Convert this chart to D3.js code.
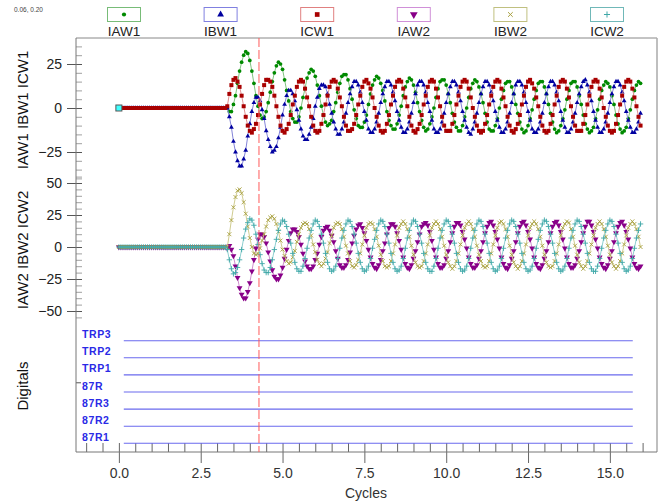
<!DOCTYPE html>
<html>
<head>
<meta charset="utf-8">
<script src="https://cdn.jsdelivr.net/npm/d3@7"></script>
<style>
  body { margin: 0; background: #fff; }
  svg { display: block; font-family: "Liberation Sans", Arial, sans-serif; }
</style>
</head>
<body>
<svg id="chart" width="659" height="502"></svg>
<script>
// Sampled relay record: 16 samples per power cycle, sample i sits at i/16 cycles.
const SAMPLES_PER_CYCLE = 16;

// Winding 1 currents (A, secondary)
const IAW1 = [
  0,0,0,0,0,0,0,0,0,0,0,0,0,0,0,0,
  0,0,0,0,0,0,0,0,0,0,0,0,0,0,0,0,
  0,0,0,0,0,0,0,0,0,0,0,0,0,0,0,0,
  0,0,0,0,0,0,-2,-2,2,7,14,21,26,30,32,31,
  27,21,14,7,1,-4,-6,-5,-2,3,9,15,20,24,26,25,
  22,16,10,4,-2,-6,-8,-8,-5,0,6,11,17,20,22,21,
  18,13,7,1,-4,-8,-10,-9,-7,-2,3,9,14,18,19,19,
  16,11,5,-1,-6,-10,-11,-11,-8,-4,2,8,13,16,18,17,
  14,10,4,-2,-7,-10,-12,-12,-9,-4,1,7,12,15,17,16,
  13,9,3,-2,-7,-11,-13,-12,-9,-5,0,6,11,15,16,16,
  13,8,3,-3,-8,-11,-13,-13,-10,-5,0,6,11,14,16,15,
  12,8,3,-3,-8,-12,-13,-13,-10,-6,0,5,10,14,15,15,
  12,8,2,-3,-8,-12,-14,-13,-10,-6,-1,5,10,14,15,15,
  12,8,2,-3,-8,-12,-14,-13,-10,-6,-1,5,10,14,15,15,
  12,7,2,-4,-9,-12,-14,-13,-11,-6,-1,5,10,13,15,14,
  12,7,2,-4,-9,-12,-14,-13,-11,-6,-1,5,10,13,15,14
];
const IBW1 = [
  0,0,0,0,0,0,0,0,0,0,0,0,0,0,0,0,
  0,0,0,0,0,0,0,0,0,0,0,0,0,0,0,0,
  0,0,0,0,0,0,0,0,0,0,0,0,0,0,0,0,
  0,0,0,0,0,0,-5,-11,-19,-25,-30,-33,-33,-29,-24,-16,
  -9,-2,3,6,6,4,-1,-6,-13,-18,-22,-25,-24,-22,-17,-11,
  -4,2,7,10,10,8,4,-1,-7,-12,-16,-18,-18,-15,-11,-6,
  1,6,11,13,13,12,8,2,-3,-8,-12,-15,-15,-12,-8,-3,
  3,8,12,15,15,13,9,3,-2,-7,-12,-14,-14,-12,-8,-3,
  3,8,12,15,15,13,9,4,-2,-7,-11,-14,-14,-12,-8,-3,
  3,8,13,15,15,13,9,3,-2,-7,-12,-14,-14,-12,-8,-3,
  3,8,12,15,15,13,9,4,-2,-7,-11,-14,-15,-12,-8,-3,
  3,8,12,15,15,13,9,4,-2,-7,-11,-14,-14,-12,-8,-3,
  3,8,13,15,15,13,9,3,-2,-7,-12,-14,-14,-12,-8,-3,
  3,8,12,15,15,13,9,4,-2,-7,-11,-14,-14,-12,-8,-3,
  3,8,12,15,16,13,9,4,-2,-7,-11,-14,-14,-12,-8,-3,
  3,8,12,15,15,13,9,4,-2,-7,-11,-14,-14,-12,-8,-3
];
const ICW1 = [
  0,0,0,0,0,0,0,0,0,0,0,0,0,0,0,0,
  0,0,0,0,0,0,0,0,0,0,0,0,0,0,0,0,
  0,0,0,0,0,0,0,0,0,0,0,0,0,0,0,0,
  0,0,0,0,0,1,8,13,16,17,15,12,7,1,-5,-10,
  -13,-14,-12,-9,-4,2,8,13,16,16,15,12,7,1,-5,-10,
  -13,-14,-12,-9,-4,2,7,12,15,16,15,11,6,1,-5,-10,
  -13,-14,-13,-9,-4,2,7,12,15,16,15,11,6,1,-5,-10,
  -13,-13,-12,-9,-4,2,7,12,15,16,14,11,6,0,-5,-10,
  -13,-14,-13,-9,-4,2,7,12,15,16,15,11,6,1,-5,-10,
  -13,-14,-12,-9,-4,2,7,12,15,16,15,11,6,1,-5,-10,
  -13,-13,-13,-9,-4,2,7,12,15,16,15,11,6,0,-5,-10,
  -13,-14,-13,-9,-4,2,7,12,15,16,15,11,6,1,-5,-10,
  -13,-14,-12,-9,-4,2,7,12,15,16,14,11,6,1,-5,-10,
  -13,-14,-13,-9,-4,2,7,12,15,16,15,11,6,1,-5,-10,
  -13,-13,-13,-9,-4,2,7,12,15,16,15,11,6,0,-5,-10,
  -13,-14,-13,-9,-4,2,7,12,15,16,15,11,6,1,-5,-10
];

// Winding 2 currents (A, secondary)
const IAW2 = [
  0,0,0,0,0,0,0,0,0,0,0,0,0,0,0,0,
  0,0,0,0,0,0,0,0,0,0,0,0,0,0,0,0,
  0,0,0,0,0,0,0,0,0,0,0,0,0,0,0,0,
  0,0,0,0,0,-1,1,-2,-7,-15,-24,-32,-37,-40,-40,-35,
  -28,-19,-10,-1,6,10,10,8,3,-4,-11,-18,-23,-25,-25,-22,
  -16,-9,-2,5,11,14,14,12,8,2,-5,-11,-15,-17,-17,-15,
  -10,-5,2,8,13,15,16,13,9,4,-3,-9,-14,-16,-16,-14,
  -10,-4,3,9,14,17,18,15,11,5,-2,-8,-13,-16,-17,-14,
  -10,-3,3,10,15,18,18,16,11,5,-2,-8,-13,-16,-17,-14,
  -9,-3,4,10,16,18,19,17,12,5,-2,-8,-13,-16,-16,-14,
  -9,-3,4,11,16,19,19,17,12,6,-1,-8,-13,-16,-16,-14,
  -9,-3,4,11,16,19,20,17,12,6,-1,-8,-13,-16,-17,-14,
  -9,-3,4,11,16,19,20,17,12,6,-1,-8,-13,-16,-17,-14,
  -9,-3,4,11,16,19,20,17,12,6,-1,-8,-13,-16,-16,-14,
  -9,-3,4,11,16,20,20,17,12,6,-1,-8,-13,-16,-17,-14,
  -9,-3,4,11,16,19,20,17,12,6,-1,-8,-13,-16,-17,-15
];
const IBW2 = [
  0,0,0,0,0,0,0,0,0,0,0,0,0,0,0,0,
  0,0,0,0,0,0,0,0,0,0,0,0,0,0,0,0,
  0,0,0,0,0,0,0,0,0,0,0,0,0,0,0,0,
  0,0,0,0,0,0,10,21,31,39,44,45,42,35,26,16,
  7,0,-5,-6,-5,-1,5,10,16,21,23,24,22,18,12,5,
  -2,-7,-11,-13,-12,-8,-3,4,10,15,18,19,18,14,9,2,
  -4,-10,-13,-15,-13,-9,-4,3,9,15,18,19,18,14,8,1,
  -5,-11,-15,-16,-14,-10,-5,2,9,15,18,19,18,14,8,1,
  -6,-11,-15,-16,-15,-11,-5,2,9,15,18,20,18,14,8,1,
  -6,-12,-15,-16,-15,-11,-5,2,9,15,18,20,18,14,8,1,
  -6,-12,-15,-17,-15,-11,-5,2,9,15,18,20,18,14,8,1,
  -6,-11,-15,-16,-15,-11,-5,2,9,15,19,20,18,14,8,1,
  -6,-12,-15,-17,-15,-11,-5,2,9,15,18,20,18,14,8,1,
  -6,-12,-15,-16,-15,-11,-5,2,9,15,18,20,19,14,8,1,
  -6,-12,-15,-17,-15,-11,-5,2,9,15,18,20,18,14,8,1,
  -6,-12,-15,-17,-15,-11,-5,2,9,15,18,20,18,14,8,0
];
const ICW2 = [
  0,0,0,0,0,0,0,0,0,0,0,0,0,0,0,0,
  0,0,0,0,0,0,0,0,0,0,0,0,0,0,0,0,
  0,0,0,0,0,0,0,0,0,0,0,0,0,0,0,0,
  0,0,0,0,0,-2,-10,-17,-21,-20,-16,-10,-2,7,14,19,
  22,21,17,10,2,-6,-13,-18,-20,-20,-16,-10,-2,6,13,18,
  21,20,16,10,3,-5,-12,-17,-19,-19,-15,-9,-1,7,13,18,
  21,20,16,10,3,-5,-12,-17,-19,-18,-15,-9,-1,7,13,18,
  21,20,16,10,3,-5,-12,-17,-19,-18,-15,-9,-1,6,13,18,
  21,20,16,10,3,-5,-12,-17,-19,-18,-15,-9,-1,7,13,18,
  21,20,16,10,3,-5,-12,-17,-19,-19,-15,-9,-1,7,13,18,
  21,20,16,10,3,-5,-12,-17,-19,-18,-15,-9,-1,7,13,18,
  21,20,16,10,3,-5,-12,-17,-19,-18,-15,-9,-1,7,13,18,
  21,20,16,10,3,-5,-12,-17,-19,-18,-15,-9,-1,6,13,18,
  21,20,16,10,3,-5,-12,-17,-19,-18,-15,-9,-1,7,13,18,
  21,20,16,10,3,-5,-12,-17,-19,-19,-15,-9,-1,7,13,18,
  21,20,16,10,3,-5,-12,-17,-19,-18,-15,-9,-1,7,13,18
];

// Digital channels (all deasserted) and their recorded span, cycles
const digitalChannels = ["TRP3", "TRP2", "TRP1", "87R", "87R3", "87R2", "87R1"];
const digitalSpan = [0.15, 15.7];

// Axis ticks
const xTicks = [0, 2.5, 5, 7.5, 10, 12.5, 15];
const topTicks = [-25, 0, 25];
const midTicks = [-50, -25, 0, 25, 50];

// Trigger cursor and reference marker
const cursorCycle = 4.28;
const originMark = [0, 0];
const cursorReadout = "0.06, 0.20";

// ---------------------------------------------------------------
const svg = d3.select("#chart");
const frame = { left: 76, right: 657, top: 38, bottom: 452 };

const x = d3.scaleLinear().domain([-1.31, 16.44]).range([frame.left, frame.right]);
const yTop = d3.scaleLinear().domain([-40, 40]).range([178.4, 37.6]);
const yMid = d3.scaleLinear().domain([-60, 60]).range([323.8, 170.2]);
const yDig = d3.scalePoint().domain(digitalChannels).range([340.7, 443.3]);
const yDigAxis = d3.scaleLinear().domain([0, 7]).range([frame.bottom, 330]);

const series = [
  { name: "IAW1", values: IAW1, y: yTop, color: "#008a00", line: "#80c480", box: "#78bc78",
    type: d3.symbolCircle, size: 11, legendSize: 14, filled: true },
  { name: "IBW1", values: IBW1, y: yTop, color: "#0000a0", line: "#8484d8", box: "#8080e0",
    type: d3.symbolTriangle, size: 10, legendSize: 20, filled: true },
  { name: "ICW1", values: ICW1, y: yTop, color: "#a80000", line: "#e09090", box: "#e08080",
    type: d3.symbolSquare, size: 16, legendSize: 22, filled: true },
  { name: "IAW2", values: IAW2, y: yMid, color: "#880088", line: "#d090d0", box: "#d090d8",
    type: d3.symbolTriangle, size: 15, legendSize: 26, filled: true, flip: true },
  { name: "IBW2", values: IBW2, y: yMid, color: "#a8a040", line: "#d0cc90", box: "#c0c080",
    type: d3.symbolTimes, size: 12, legendSize: 16, filled: false },
  { name: "ICW2", values: ICW2, y: yMid, color: "#40a8a8", line: "#90d0d0", box: "#70b8b8",
    type: d3.symbolPlus, size: 11, legendSize: 14, filled: false }
];

// Frame
svg.append("line").attr("x1", frame.left).attr("x2", frame.right)
  .attr("y1", frame.top).attr("y2", frame.top).attr("stroke", "#888");
svg.append("line").attr("x1", frame.right).attr("x2", frame.right)
  .attr("y1", frame.top).attr("y2", frame.bottom).attr("stroke", "#aaa").attr("stroke-width", 1.5);

// Cursor readout
svg.append("text").attr("x", 14).attr("y", 12).attr("font-size", 6.5).attr("fill", "#444")
  .text(cursorReadout);

// Legend
const legend = svg.append("g");
series.forEach((s, i) => {
  const cx = 124 + 96.6 * i;
  const g = legend.append("g").attr("transform", `translate(${cx},0)`);
  g.append("rect").attr("x", -16.5).attr("y", 7.5).attr("width", 33).attr("height", 14)
    .attr("fill", "#fff").attr("stroke", s.box);
  g.append("path").attr("d", d3.symbol().type(s.type).size(s.legendSize)())
    .attr("transform", `translate(0,14.5)${s.flip ? " rotate(180)" : ""}`)
    .attr("fill", s.filled ? s.color : "none")
    .attr("stroke", s.filled ? "none" : s.color);
  g.append("text").attr("y", 36).attr("text-anchor", "middle").attr("font-size", 13.5)
    .attr("fill", "#222").text(s.name);
});

// Left axes
function valueAxis(scale, majors, minorRange) {
  const g = svg.append("g").attr("transform", `translate(${frame.left},0)`);
  const minor = d3.range(minorRange[0], minorRange[1] + 0.1, 5);
  g.append("g").call(d3.axisRight(scale).tickValues(minor).tickSize(6).tickFormat(""))
    .call(a => a.select(".domain").remove())
    .call(a => a.selectAll("line").attr("stroke", "#a0a0a0"));
  g.append("g").call(d3.axisLeft(scale).tickValues(majors).tickSize(9).tickPadding(5).tickFormat(d3.format("d")))
    .call(a => a.select(".domain").remove())
    .call(a => a.selectAll("line").attr("stroke", "#555"))
    .call(a => a.selectAll("text").attr("font-size", 14).attr("fill", "#222")
      .attr("font-family", "'Liberation Sans', Arial, sans-serif"));
  g.append("g").call(d3.axisRight(scale).tickValues(majors).tickSize(6).tickFormat(""))
    .call(a => a.select(".domain").remove())
    .call(a => a.selectAll("line").attr("stroke", "#555"));
}
valueAxis(yTop, topTicks, [-40, 35]);
valueAxis(yMid, midTicks, [-55, 55]);

svg.append("g").attr("transform", `translate(${frame.left},0)`)
  .call(d3.axisRight(yDigAxis).tickValues([4]).tickSize(5).tickFormat(""))
  .call(a => a.select(".domain").remove())
  .call(a => a.selectAll("line").attr("stroke", "#555"));

svg.append("line").attr("x1", frame.left).attr("x2", frame.left)
  .attr("y1", frame.top).attr("y2", frame.bottom).attr("stroke", "#777");

// Axis titles
function yTitle(text, cy) {
  svg.append("text").attr("transform", `translate(28,${cy}) rotate(-90)`)
    .attr("text-anchor", "middle").attr("font-size", 15).attr("fill", "#111").text(text);
}
yTitle("IAW1 IBW1 ICW1", 110);
yTitle("IAW2 IBW2 ICW2", 250);
yTitle("Digitals", 386);

// Bottom axis
const xg = svg.append("g").attr("transform", `translate(0,${frame.bottom})`);
xg.append("g").call(d3.axisTop(x).tickValues(d3.range(-1, 16.01, 0.5)).tickSize(9).tickFormat(""))
  .call(a => a.select(".domain").remove())
  .call(a => a.selectAll("line").attr("stroke", "#666"));
xg.append("g").call(d3.axisBottom(x).tickValues(xTicks).tickSize(11).tickPadding(5).tickFormat(d3.format(".1f")))
  .call(a => a.select(".domain").remove())
  .call(a => a.selectAll("line").attr("stroke", "#666"))
  .call(a => a.selectAll("text").attr("font-size", 14).attr("fill", "#333")
    .attr("font-family", "'Liberation Sans', Arial, sans-serif"));
svg.append("line").attr("x1", frame.left).attr("x2", frame.right)
  .attr("y1", frame.bottom).attr("y2", frame.bottom).attr("stroke", "#777");
svg.append("text").attr("x", 366).attr("y", 498).attr("text-anchor", "middle")
  .attr("font-size", 14).attr("fill", "#333").text("Cycles");

// Digital channels
const dig = svg.append("g");
dig.selectAll("line").data(digitalChannels).join("line")
  .attr("x1", x(digitalSpan[0])).attr("x2", x(digitalSpan[1]))
  .attr("y1", d => yDig(d)).attr("y2", d => yDig(d))
  .attr("stroke", "#6a6aee").attr("stroke-width", 1.1);
dig.selectAll("text").data(digitalChannels).join("text")
  .attr("x", 82).attr("y", d => yDig(d) - 2.5)
  .attr("font-size", 10.5).attr("letter-spacing", 0.6).attr("font-weight", "bold")
  .attr("fill", "#2a2ae6").text(d => d);

// Waveforms
series.forEach(s => {
  const g = svg.append("g");
  const line = d3.line().x((v, i) => x(i / SAMPLES_PER_CYCLE)).y(v => s.y(v));
  g.append("path").attr("d", line(s.values)).attr("fill", "none")
    .attr("stroke", s.line).attr("stroke-width", 1);
  const mark = d3.symbol().type(s.type).size(s.size)();
  g.selectAll("path.m").data(s.values).join("path").attr("class", "m")
    .attr("d", mark)
    .attr("transform", (v, i) => `translate(${x(i / SAMPLES_PER_CYCLE)},${s.y(v)})${s.flip ? " rotate(180)" : ""}`)
    .attr("fill", s.filled ? s.color : "none")
    .attr("stroke", s.filled ? "none" : s.color)
    .attr("stroke-width", 0.9);
});

// Origin reference marker
svg.append("rect")
  .attr("x", x(originMark[0]) - 3).attr("y", yTop(originMark[1]) - 3)
  .attr("width", 6).attr("height", 6)
  .attr("fill", "#40ffff").attr("stroke", "#555").attr("stroke-width", 1);

// Trigger cursor
svg.append("line").attr("x1", x(cursorCycle)).attr("x2", x(cursorCycle))
  .attr("y1", frame.top).attr("y2", frame.bottom)
  .attr("stroke", "#ff5a5a").attr("stroke-width", 1).attr("stroke-dasharray", "9,3");
</script>
</body>
</html>
